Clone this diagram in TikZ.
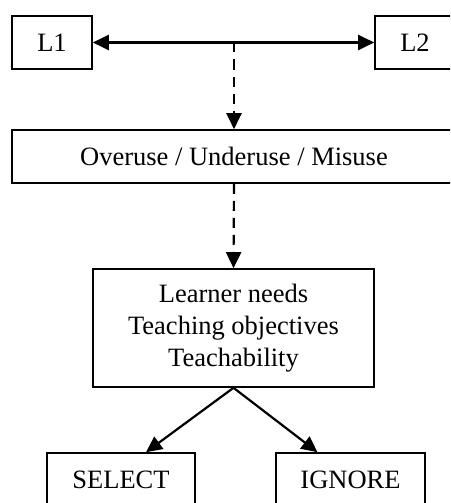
\documentclass[tikz,border=0pt]{standalone}
\usepackage{fontspec}
\setmainfont{Liberation Serif}
\usetikzlibrary{arrows.meta}
\begin{document}
\begin{tikzpicture}[x=1pt,y=-1pt,
  every node/.style={font=\fontsize{26.5}{32}\selectfont},
  box/.style={draw,line width=1.6pt,minimum height=53pt,inner sep=0pt,align=center},
  arr/.style={line width=2.2pt,-{Triangle[length=16pt,width=15pt]}},
  darr/.style={arr,dash pattern=on 10pt off 7pt}]
\useasboundingbox (0,0) rectangle (450,503);
\clip (0,0) rectangle (450,503);
\node[box,minimum width=80pt] (l1) at (52,42.5) {L1};
\node[box,minimum width=80pt] (l2) at (415,42.5) {L2};
\node[box,minimum width=444pt] (b2) at (234,156.5) {Overuse / Underuse / Misuse};
\node[box,minimum width=281pt,minimum height=118pt] (b3) at (233.5,328) {Learner needs\\Teaching objectives\\Teachability};
\node[box,minimum width=148pt,minimum height=54pt] (sel) at (121,480) {SELECT};
\node[box,minimum width=149pt,minimum height=54pt] (ign) at (350.5,480) {IGNORE};
\coordinate (m) at (234,42.5);
\draw[line width=2.2pt,{Triangle[length=16pt,width=15pt]}-{Triangle[length=16pt,width=15pt]}] (l1.east) -- (l2.west);
\draw[darr] (m) -- (b2.north);
\draw[darr] (b2.south) -- (b3.north);
\draw[arr] (b3.south) -- ([xshift=25pt]sel.north);
\draw[arr] (b3.south) -- ([xshift=-33pt]ign.north);
\end{tikzpicture}
\end{document}
